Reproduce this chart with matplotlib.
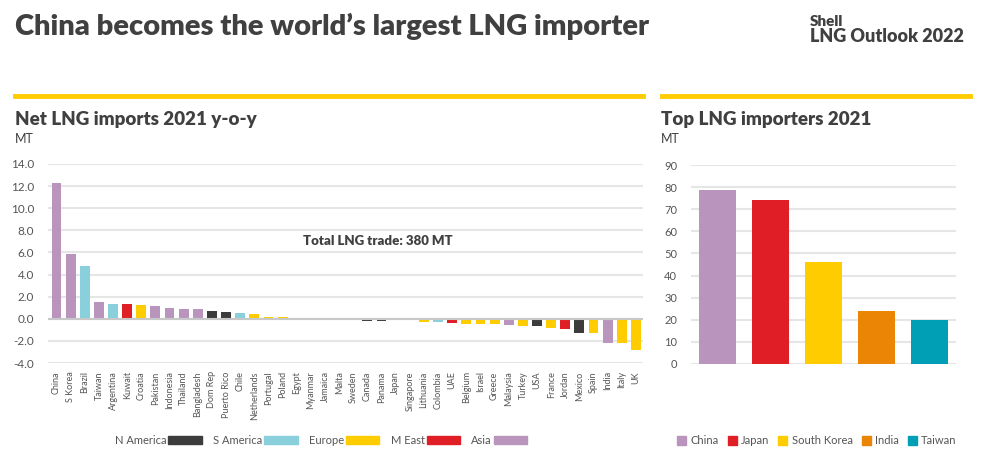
import matplotlib.pyplot as plt
from matplotlib.patches import Patch
from matplotlib.lines import Line2D

# Net LNG imports 2021 y-o-y (MT)
countries = ['China', 'S Korea', 'Brazil', 'Taiwan', 'Argentina', 'Kuwait', 'Croatia',
             'Pakistan', 'Indonesia', 'Thailand', 'Bangladesh', 'Dom Rep', 'Puerto Rico',
             'Chile', 'Netherlands', 'Portugal', 'Poland', 'Egypt', 'Myanmar', 'Jamaica',
             'Malta', 'Sweden', 'Canada', 'Panama', 'Japan', 'Singapore', 'Lithuania',
             'Colombia', 'UAE', 'Belgium', 'Israel', 'Greece', 'Malaysia', 'Turkey', 'USA',
             'France', 'Jordan', 'Mexico', 'Spain', 'India', 'Italy', 'UK']
yoy = [12.26, 5.84, 4.76, 1.51, 1.33, 1.33, 1.23, 1.14, 0.96, 0.87, 0.87, 0.69, 0.60,
       0.51, 0.42, 0.15, 0.15, 0.04, 0.05, 0.03, 0.02, -0.02, -0.18, -0.18, -0.15, -0.15,
       -0.27, -0.27, -0.39, -0.48, -0.48, -0.48, -0.58, -0.67, -0.67, -0.85, -0.94,
       -1.30, -1.30, -2.21, -2.21, -2.85]
regions = ['Asia', 'Asia', 'S America', 'Asia', 'S America', 'M East', 'Europe',
           'Asia', 'Asia', 'Asia', 'Asia', 'N America', 'N America',
           'S America', 'Europe', 'Europe', 'Europe', 'Europe', 'Asia', 'Europe',
           'Europe', 'Europe', 'N America', 'N America', 'Asia', 'Asia', 'Europe',
           'S America', 'M East', 'Europe', 'Europe', 'Europe', 'Asia', 'Europe', 'N America',
           'Europe', 'M East', 'N America', 'Europe', 'Asia', 'Europe', 'Europe']
region_names = ['N America', 'S America', 'Europe', 'M East', 'Asia']

# Top LNG importers 2021 (MT)
top_importers = ['China', 'Japan', 'South Korea', 'India', 'Taiwan']
top_volumes = [78.8, 74.3, 46.2, 24.0, 19.9]

region_colors = {'N America': '#3c3c3c', 'S America': '#8ad0dc', 'Europe': '#ffcc00',
                 'M East': '#e01e25', 'Asia': '#b995be'}
top_colors = ['#b995be', '#e01e25', '#ffcc00', '#ea8505', '#009fb5']

dark = '#404040'
tick_grey = '#555555'
grid_grey = '#e6e6e6'
yellow = '#ffcc00'

plt.rcParams['font.family'] = ['Lato', 'DejaVu Sans']

fig = plt.figure(figsize=(9.84, 4.57), dpi=100)

# header
fig.text(15 / 984, 1 - 26 / 457, 'China becomes the world\u2019s largest LNG importer',
         fontsize=21, fontweight='heavy', color=dark, va='center', ha='left')
fig.text(810 / 984, 1 - 21 / 457, 'Shell', fontsize=11, fontweight='heavy',
         color=dark, va='center', ha='left')
fig.text(810 / 984, 1 - 37 / 457, 'LNG Outlook 2022', fontsize=13, fontweight='heavy',
         color=dark, va='center', ha='left')

# yellow rules
fig.add_artist(Line2D([15 / 984, 643 / 984], [1 - 96 / 457] * 2, color=yellow, lw=3.5))
fig.add_artist(Line2D([662 / 984, 970 / 984], [1 - 96 / 457] * 2, color=yellow, lw=3.5))

# panel titles
fig.text(15 / 984, 1 - 120 / 457, 'Net LNG imports 2021 y-o-y', fontsize=13.5,
         fontweight='heavy', color=dark, va='center', ha='left')
fig.text(15 / 984, 1 - 139 / 457, 'MT', fontsize=9, color=dark, va='center', ha='left')
fig.text(661 / 984, 1 - 120 / 457, 'Top LNG importers 2021', fontsize=13.5,
         fontweight='heavy', color=dark, va='center', ha='left')
fig.text(661 / 984, 1 - 139 / 457, 'MT', fontsize=9, color=dark, va='center', ha='left')

# left chart
ax = fig.add_axes([48 / 984, 1 - 363 / 457, 595 / 984, 199 / 457])
x = range(len(countries))
ax.bar(x, yoy, width=0.7, color=[region_colors[r] for r in regions], zorder=3)
ax.set_ylim(-4, 14)
ax.set_xlim(-0.6, len(countries) - 0.5)
ax.set_yticks(range(-4, 15, 2))
ax.set_yticklabels([f'{v:.1f}' for v in range(-4, 15, 2)])
ax.set_xticks(list(x))
ax.set_xticklabels(countries, rotation=90, fontsize=6.5, color=tick_grey)
ax.tick_params(axis='y', labelsize=8.5, colors=tick_grey, length=0, pad=10)
ax.tick_params(axis='x', length=0, pad=6)
ax.grid(axis='y', color=grid_grey, lw=1.5, zorder=0)
ax.axhline(0, color='#c8c8c8', lw=1.5, zorder=4)
for s in ax.spines.values():
    s.set_visible(False)
ax.text(0.555, 0.613, 'Total LNG trade: 380 MT', transform=ax.transAxes,
        fontsize=9.5, fontweight='heavy', color=dark, ha='center', va='center')

handles = [Patch(color=region_colors[r]) for r in region_names]
fig.legend(handles, region_names, loc='center', bbox_to_anchor=(321 / 984, 1 - 440 / 457),
           ncol=5, frameon=False, markerfirst=False, fontsize=8, handlelength=3.0,
           handleheight=0.7, columnspacing=1.0, handletextpad=0.2, labelcolor=tick_grey)

# right chart
ax2 = fig.add_axes([691 / 984, 1 - 364 / 457, 265 / 984, 199 / 457])
ax2.bar(range(len(top_importers)), top_volumes, width=0.68, color=top_colors, zorder=3)
ax2.set_ylim(0, 90)
ax2.set_xlim(-0.5, len(top_importers) - 0.5)
ax2.set_yticks(range(0, 91, 10))
ax2.set_xticks([])
ax2.tick_params(axis='y', labelsize=8, colors=tick_grey, length=0, pad=10)
ax2.grid(axis='y', color=grid_grey, lw=1.5, zorder=0)
for s in ax2.spines.values():
    s.set_visible(False)

handles2 = [Patch(color=c) for c in top_colors]
fig.legend(handles2, top_importers, loc='center', bbox_to_anchor=(817 / 984, 1 - 441 / 457),
           ncol=5, frameon=False, fontsize=8, handlelength=0.8, handleheight=0.8,
           columnspacing=0.8, handletextpad=0.4, labelcolor=tick_grey)

fig.savefig('out.png', dpi=100, facecolor='white')
